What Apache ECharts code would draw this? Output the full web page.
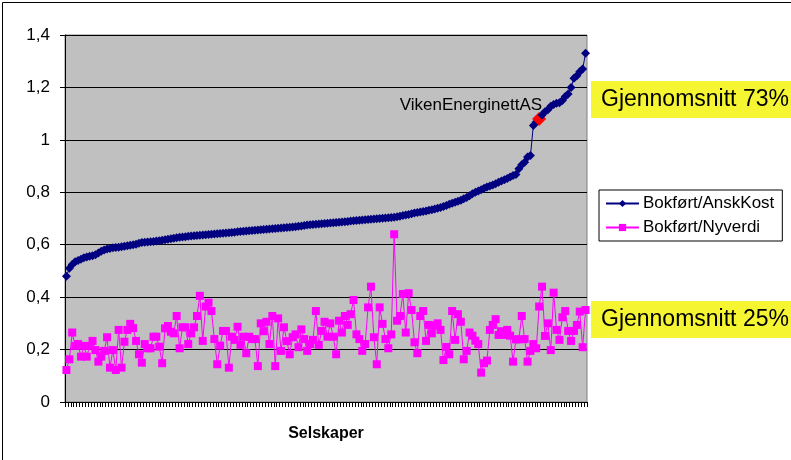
<!DOCTYPE html>
<html>
<head>
<meta charset="utf-8">
<script src="https://cdn.jsdelivr.net/npm/echarts@6/dist/echarts.min.js"></script>
<style>
html,body{margin:0;padding:0;background:#fff;}
#chart{width:791px;height:460px;}
</style>
</head>
<body>
<div id="chart"></div>
<script>
// ---- Data ----
const seriesNames = ['Bokført/AnskKost', 'Bokført/Nyverdi'];
const axisTitle = 'Selskaper';
const yTickLabels = ['0', '0,2', '0,4', '0,6', '0,8', '1', '1,2', '1,4'];
const highlightName = 'VikenEnerginettAS';
const highlightIndex = 163;
const averageTexts = ['Gjennomsnitt 73%', 'Gjennomsnitt 25%'];

const bokfortAnskKost = [
  0.48, 0.51, 0.525, 0.535, 0.54, 0.545, 0.55, 0.553, 0.556, 0.558,
  0.562, 0.568, 0.575, 0.58, 0.584, 0.586, 0.588, 0.589, 0.59, 0.592,
  0.594, 0.596, 0.598, 0.60, 0.602, 0.606, 0.608, 0.609, 0.610, 0.611,
  0.612, 0.614, 0.615, 0.617, 0.619, 0.621, 0.623, 0.625, 0.627, 0.628,
  0.629, 0.630, 0.632, 0.633, 0.634, 0.635, 0.636, 0.637, 0.638, 0.639,
  0.640, 0.641, 0.642, 0.643, 0.644, 0.645, 0.646, 0.647, 0.648, 0.649,
  0.650, 0.651, 0.652, 0.653, 0.654, 0.655, 0.656, 0.657, 0.658, 0.659,
  0.660, 0.661, 0.662, 0.663, 0.664, 0.665, 0.666, 0.667, 0.668, 0.669,
  0.670, 0.671, 0.673, 0.675, 0.676, 0.677, 0.678, 0.679, 0.680, 0.681,
  0.682, 0.683, 0.684, 0.685, 0.686, 0.687, 0.688, 0.689, 0.690, 0.691,
  0.692, 0.693, 0.694, 0.695, 0.696, 0.697, 0.698, 0.699, 0.700, 0.701,
  0.702, 0.703, 0.704, 0.705, 0.707, 0.709, 0.711, 0.713, 0.715, 0.718,
  0.721, 0.723, 0.725, 0.727, 0.729, 0.731, 0.733, 0.736, 0.739, 0.742,
  0.746, 0.750, 0.754, 0.758, 0.762, 0.766, 0.770, 0.775, 0.780, 0.787,
  0.794, 0.800, 0.805, 0.810, 0.815, 0.820, 0.824, 0.828, 0.833, 0.838,
  0.843, 0.848, 0.853, 0.858, 0.864, 0.868, 0.89, 0.905, 0.915, 0.935,
  0.94, 1.055, 1.068, 1.08, 1.095, 1.107, 1.115, 1.128, 1.135, 1.14,
  1.142, 1.15, 1.165, 1.175, 1.20, 1.235, 1.245, 1.26, 1.27, 1.33
];

const bokfortNyverdi = [
  0.122, 0.163, 0.265, 0.214, 0.221, 0.173, 0.214, 0.173, 0.214, 0.233,
  0.198, 0.154, 0.173, 0.195, 0.247, 0.131, 0.198, 0.122, 0.275, 0.131,
  0.23, 0.275, 0.298, 0.282, 0.233, 0.182, 0.15, 0.221, 0.205, 0.205,
  0.249, 0.249, 0.211, 0.148, 0.281, 0.29, 0.268, 0.262, 0.328, 0.205,
  0.285, 0.285, 0.221, 0.262, 0.285, 0.328, 0.405, 0.233, 0.364, 0.379,
  0.347, 0.24, 0.144, 0.215, 0.271, 0.271, 0.131, 0.249, 0.237, 0.287,
  0.218, 0.249, 0.186, 0.249, 0.24, 0.24, 0.137, 0.3, 0.27, 0.306,
  0.221, 0.328, 0.137, 0.319, 0.195, 0.285, 0.232, 0.182, 0.247, 0.258,
  0.209, 0.277, 0.24, 0.195, 0.221, 0.237, 0.347, 0.218, 0.271, 0.306,
  0.249, 0.3, 0.249, 0.182, 0.31, 0.265, 0.328, 0.294, 0.335, 0.389,
  0.258, 0.24, 0.195, 0.221, 0.361, 0.44, 0.247, 0.144, 0.361, 0.298,
  0.24, 0.205, 0.258, 0.64, 0.31, 0.328, 0.412, 0.265, 0.415, 0.351,
  0.228, 0.186, 0.328, 0.347, 0.233, 0.294, 0.262, 0.291, 0.3, 0.275,
  0.16, 0.21, 0.182, 0.347, 0.237, 0.335, 0.306, 0.163, 0.195, 0.265,
  0.253, 0.234, 0.221, 0.112, 0.148, 0.158, 0.275, 0.294, 0.316, 0.256,
  0.27, 0.256, 0.275, 0.253, 0.154, 0.239, 0.239, 0.328, 0.24, 0.154,
  0.195, 0.221, 0.205, 0.364, 0.44, 0.252, 0.3, 0.198, 0.417, 0.275,
  0.237, 0.323, 0.347, 0.271, 0.233, 0.271, 0.294, 0.345, 0.209, 0.351
];

const categories = bokfortAnskKost.map((v, i) => String(i + 1));

// ---- Chart ----
const FONT = 'Arial, "Liberation Sans", sans-serif';
const chart = echarts.init(document.getElementById('chart'), null, {renderer: 'canvas'});

const blueData = bokfortAnskKost.map((v, i) => {
  if (i !== highlightIndex) return v;
  return {
    value: v,
    name: highlightName,
    symbolSize: 13,
    itemStyle: {color: '#FF0000', borderColor: '#FF0000'},
    label: {
      show: true,
      formatter: highlightName,
      position: 'top',
      align: 'right',
      distance: 0,
      offset: [3, 2],
      color: '#000',
      fontFamily: FONT,
      fontSize: 17
    },
    z: 10
  };
});

const option = {
  animation: false,
  backgroundColor: '#fff',
  textStyle: {fontFamily: FONT},
  grid: {
    left: 65, right: 204, top: 35, bottom: 58,
    show: true, backgroundColor: '#C0C0C0', borderColor: '#808080', borderWidth: 1
  },
  legend: {
    orient: 'vertical',
    left: 599, top: 190,
    padding: [5, 8, 5, 6],
    itemGap: 7,
    itemWidth: 33, itemHeight: 9,
    borderColor: '#000', borderWidth: 1,
    backgroundColor: '#fff',
    textStyle: {fontFamily: FONT, fontSize: 17, color: '#000', padding: [0, 0, 0, -1]},
    data: seriesNames
  },
  xAxis: {
    type: 'category',
    data: categories,
    boundaryGap: true,
    name: axisTitle,
    nameLocation: 'middle',
    nameGap: 24,
    nameTextStyle: {fontFamily: FONT, fontSize: 16, fontWeight: 'bold', color: '#000'},
    axisLine: {lineStyle: {color: '#000', width: 1}},
    axisTick: {show: true, interval: 0, length: 5, lineStyle: {color: '#000'}},
    axisLabel: {show: false},
    splitLine: {show: false}
  },
  yAxis: {
    type: 'value',
    min: 0, max: 1.4, interval: 0.2,
    axisLine: {show: true, lineStyle: {color: '#000', width: 1}},
    axisTick: {show: true, length: 5, lineStyle: {color: '#000'}},
    axisLabel: {
      margin: 15,
      color: '#000', fontFamily: FONT, fontSize: 17,
      formatter: (v) => yTickLabels[Math.round(v / 0.2)]
    },
    splitLine: {show: true, lineStyle: {color: '#000', width: 1}}
  },
  series: [
    {
      name: seriesNames[0],
      type: 'line',
      data: blueData,
      symbol: 'diamond',
      symbolSize: 9,
      showAllSymbol: true,
      color: '#000080',
      lineStyle: {color: '#000080', width: 1},
      itemStyle: {color: '#000080'},
      z: 3
    },
    {
      name: seriesNames[1],
      type: 'line',
      data: bokfortNyverdi,
      symbol: 'rect',
      symbolSize: 8,
      showAllSymbol: true,
      color: '#FF00FF',
      lineStyle: {color: '#FF00FF', width: 1},
      itemStyle: {color: '#FF00FF'},
      z: 2
    }
  ],
  graphic: [
    {type: 'rect', left: 0, top: 0, shape: {x: 0.5, y: 0.5, width: 789, height: 458},
     style: {fill: 'none', stroke: '#000', lineWidth: 1}, silent: true, z: 100},
    {type: 'rect', shape: {x: 591, y: 81, width: 200, height: 37},
     style: {fill: '#F5F532'}, silent: true, z: 50},
    {type: 'text', x: 601, y: 99.5,
     style: {text: averageTexts[0], fill: '#000', font: '23px ' + FONT, textVerticalAlign: 'middle'}, silent: true, z: 51},
    {type: 'rect', shape: {x: 591, y: 301, width: 200, height: 37},
     style: {fill: '#F5F532'}, silent: true, z: 50},
    {type: 'text', x: 601, y: 319.5,
     style: {text: averageTexts[1], fill: '#000', font: '23px ' + FONT, textVerticalAlign: 'middle'}, silent: true, z: 51}
  ]
};
chart.setOption(option);
</script>
</body>
</html>
